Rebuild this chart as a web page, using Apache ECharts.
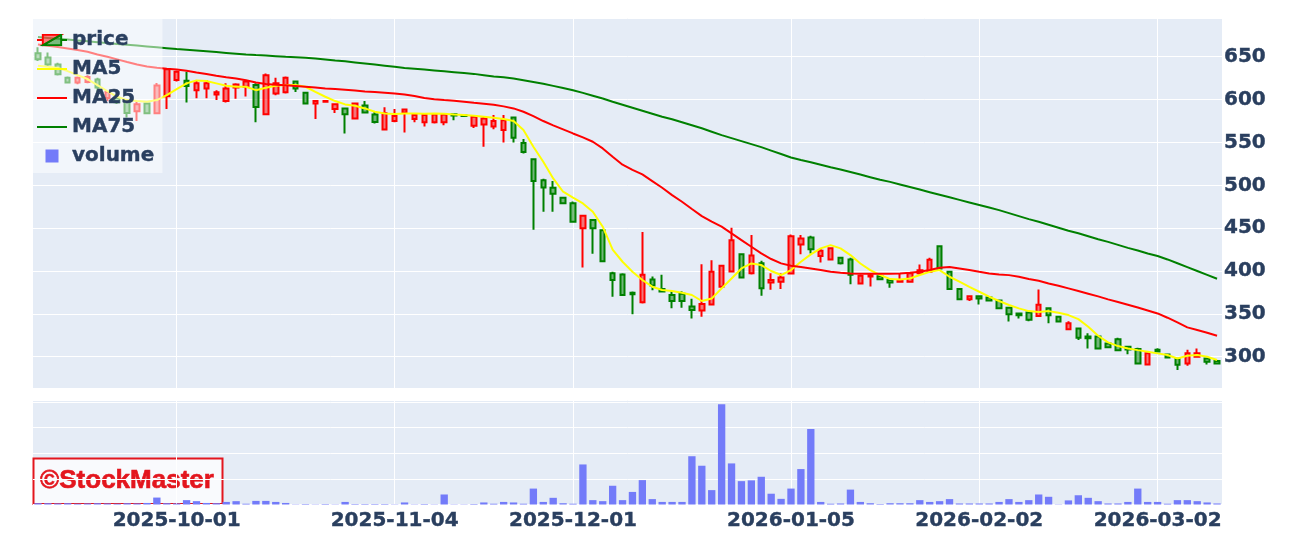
<!DOCTYPE html>
<html>
<head>
<meta charset="utf-8">
<title>price</title>
<script src="https://cdn.jsdelivr.net/npm/echarts@6/dist/echarts.min.js"></script>
<style>
  html, body { margin: 0; padding: 0; background: #fff; }
  #chart { width: 1291px; height: 543px; }
</style>
</head>
<body>
<div id="chart"></div>
<script>
// trading days shown on the chart
const dates = [
  '2025-09-09', '2025-09-10', '2025-09-11', '2025-09-12', '2025-09-16', '2025-09-17', '2025-09-18',
  '2025-09-19', '2025-09-22', '2025-09-24', '2025-09-25', '2025-09-26', '2025-09-29', '2025-09-30',
  '2025-10-01', '2025-10-02', '2025-10-03', '2025-10-06', '2025-10-07', '2025-10-08', '2025-10-09',
  '2025-10-10', '2025-10-14', '2025-10-15', '2025-10-16', '2025-10-17', '2025-10-20', '2025-10-21',
  '2025-10-22', '2025-10-23', '2025-10-24', '2025-10-27', '2025-10-28', '2025-10-29', '2025-10-30',
  '2025-10-31', '2025-11-04', '2025-11-05', '2025-11-06', '2025-11-07', '2025-11-10', '2025-11-11',
  '2025-11-12', '2025-11-13', '2025-11-14', '2025-11-17', '2025-11-18', '2025-11-19', '2025-11-20',
  '2025-11-21', '2025-11-25', '2025-11-26', '2025-11-27', '2025-11-28', '2025-12-01', '2025-12-02',
  '2025-12-03', '2025-12-04', '2025-12-05', '2025-12-08', '2025-12-09', '2025-12-10', '2025-12-11',
  '2025-12-12', '2025-12-15', '2025-12-16', '2025-12-17', '2025-12-18', '2025-12-19', '2025-12-22',
  '2025-12-23', '2025-12-24', '2025-12-25', '2025-12-26', '2025-12-29', '2025-12-30', '2026-01-05',
  '2026-01-06', '2026-01-07', '2026-01-08', '2026-01-09', '2026-01-13', '2026-01-14', '2026-01-15',
  '2026-01-16', '2026-01-19', '2026-01-20', '2026-01-21', '2026-01-22', '2026-01-23', '2026-01-26',
  '2026-01-27', '2026-01-28', '2026-01-29', '2026-01-30', '2026-02-02', '2026-02-03', '2026-02-04',
  '2026-02-05', '2026-02-06', '2026-02-09', '2026-02-10', '2026-02-12', '2026-02-13', '2026-02-16',
  '2026-02-17', '2026-02-18', '2026-02-19', '2026-02-20', '2026-02-24', '2026-02-25', '2026-02-26',
  '2026-02-27', '2026-03-02', '2026-03-03', '2026-03-04', '2026-03-05', '2026-03-06', '2026-03-09',
  '2026-03-10'
];

const tickDates = ['2025-10-01', '2025-11-04', '2025-12-01', '2026-01-05', '2026-02-02', '2026-03-02'];

const opens = [
  654, 649, 641, 625.5, 620, 620.5, 623.5, 602, 602, 598.5, 586.5, 595.5, 584, 604,
  623, 622, 611, 613, 606, 598.5, 614, 615, 617, 583,
  607, 608.5, 621, 608, 595.5, 597.5, 589, 589.5, 578, 593,
  582.5, 565, 575, 585, 577.5, 573.5, 573.5, 573.5, 583, 581.5,
  569.5, 571, 568.5, 564.5, 579, 549.5, 530.5, 506, 497, 485.5,
  479, 450, 459.5, 447.5, 397.5, 396, 374.5, 363.5, 390, 379,
  372, 373.5, 358.5, 354, 361, 381.5, 399.5, 419.5, 397.5, 409,
  386.5, 387.5, 397, 431, 439, 417.5, 413.5, 415.5, 413.5, 385.5,
  393.5, 394, 389.5, 387.5, 387.5, 397.5, 399, 429, 399, 379,
  367, 370.5, 369, 365.5, 357, 350.5, 351.5, 347.5, 356.5, 346.5,
  332, 333, 323.5, 323.5, 315.5, 320.5, 311.5, 309, 291, 308,
  302.5, 297.5, 292, 300, 298, 295
];
const closes = [
  647, 641, 629.5, 620, 625.5, 626.5, 614, 609, 597, 584.5, 594.5, 584, 616.5, 635.5,
  632.5, 616, 619, 619, 608.5, 613, 617.5, 621, 591.5, 628.5,
  619, 625.5, 613, 595.5, 598.5, 598.3, 594.5, 583, 595.5, 585,
  574, 584, 581, 588.5, 582, 582, 582.5, 582.5, 581.5, 581,
  580, 578, 575, 576, 555.5, 539, 505, 497.5, 490, 479,
  457.5, 464.5, 450, 411.5, 389.5, 372, 373, 395.5, 383, 376,
  365, 365, 354.5, 361.5, 399, 406, 436, 392.5, 418, 380,
  389.5, 392.5, 440.5, 438, 425.5, 423.5, 426.5, 409, 395.5, 394.5,
  395, 390.5, 386.5, 389.5, 397.5, 401, 413, 403, 379, 367,
  370.5, 368, 365.5, 356.5, 349.5, 348.5, 343, 360.5, 348.5, 341,
  339, 322, 321.5, 309.5, 311, 307.5, 308.5, 292, 304, 306,
  299, 290.5, 304, 304, 294, 292
];
const lows = [
  645, 639, 628, 619, 618, 619, 604, 598, 595, 579, 575, 583, 583, 589,
  621, 596.5, 601.5, 601.5, 599.5, 596.5, 601, 603.5, 573.5, 582,
  605, 607, 609, 595, 577.5, 597, 584.5, 560.5, 577.5, 584,
  572, 564.5, 573.5, 561.5, 573.5, 568.5, 572, 570, 576, 580.5,
  567, 545, 565.5, 550, 550, 537, 448, 469, 469, 478,
  456.5, 404, 420, 411, 370, 371, 349.5, 362, 377.5, 375,
  356.5, 357, 344.5, 346.5, 360.5, 381, 398.5, 391.5, 396, 371,
  378, 379, 396.5, 419.5, 420.5, 410, 412.5, 407.5, 384.5, 384.5,
  382, 389.5, 380.5, 387.5, 386.5, 395.5, 398.5, 402.5, 378, 366.5,
  365, 361, 365, 355.5, 341, 344.5, 341.5, 346.5, 339, 340,
  331, 319.5, 309.5, 309, 310, 307, 303, 291, 290, 305,
  298, 284.5, 289.5, 300, 291, 291.5
];
const highs = [
  661, 655, 643, 627, 627, 628.5, 625.5, 609.5, 604, 600.5, 598.5, 597, 619.5, 637,
  634, 632.5, 623, 623, 611, 619, 619, 622, 619, 630.5,
  625.5, 627, 621.5, 609, 598.5, 598.5, 594.5, 590, 596.5, 598.5,
  586, 591, 589, 589, 582.5, 583, 584, 583.5, 583.5, 581.5,
  582, 580, 582, 582, 580, 554, 531.5, 507.5, 505, 486.5,
  481, 465.5, 460.5, 448.5, 399, 397.5, 376, 445.5, 393.5, 395.5,
  376.5, 376.5, 367.5, 408, 412.5, 406.5, 450.5, 420.5, 442, 412,
  397.5, 397.5, 442.5, 442, 441, 426.5, 427, 416, 415.5, 396,
  397.5, 395, 389.5, 397.5, 398.5, 407.5, 415.5, 429, 400, 379,
  371, 371, 369, 366, 358, 351.5, 352, 378.5, 357, 347,
  341.5, 334, 327.5, 324, 316.5, 322, 312, 310.5, 304.5, 310,
  303, 298, 308, 309.5, 298.5, 296
];

const ma5 = [
  639.5, 638.3, 637, 633.3, 628.6, 624, 617, 610, 603.3, 599.4, 598.3, 597.5, 599.4, 605.3,
  612.3, 618.9, 622.4, 621.6, 618.9, 616.2, 615, 615, 611, 613.8,
  616.2, 617, 617, 615, 609, 603.3, 598.3, 594.4, 592.8, 589.7,
  585.8, 583.9, 583.1, 583.9, 583.9, 583.5, 583.9, 583.5, 582.7, 582,
  581.2, 580, 578.8, 577.3, 575, 564.4, 545, 527.5, 508, 492.5,
  485.5, 478.8, 469.2, 451.7, 425, 410.8, 399.2, 389.5, 381.7, 377.8,
  376.7, 374.7, 372, 365, 368, 379.7, 391.3, 403, 408.8, 406.9,
  400, 395.3, 401.1, 410.8, 419.4, 426.4, 430.2, 426.4, 418.6, 408.8,
  401.1, 395.3, 390.6, 390.2, 391.3, 395.3, 399.2, 401.1, 393.3, 387.5,
  381.6, 375.8, 370, 365, 360.3, 356.4, 353.2, 352.3, 353.2, 351.3,
  348.6, 343.9, 335, 324.5, 316.7, 312.4, 309.7, 307.7, 305.8, 303.9,
  302, 298, 301.1, 302, 300, 296.1
];
const ma25 = [
  664.4, 662.8, 661.3, 659.7, 657.8, 655.8, 652.7, 650, 646.9, 643.8, 641, 638.7, 637.2, 636,
  635.2, 633.7, 631.7, 629.8, 627.8, 626, 624.5, 622.5, 620, 618.3,
  617.3, 616.6, 615.8, 615, 614.2, 613, 612.3, 611.5, 610.7, 609.5,
  608.8, 608, 607.2, 606, 604.1, 601.8, 600.5, 599.5, 598.7, 597.5,
  596.3, 595.2, 594, 592.1, 589.7, 585.8, 580.8, 575, 569.9, 565.2,
  560.5, 555.9, 550.8, 543, 533.3, 524, 518, 512.7, 504.9, 497.1,
  488.6, 480.8, 472.3, 464.1, 457.5, 451.7, 443.9, 436.1, 428.3, 420.5,
  414, 408.9, 406.1, 404.6, 403, 401.1, 399.1, 398, 397.2, 396.9,
  396.9, 396.9, 396.9, 397.2, 398, 399.1, 401.1, 403.8, 404.6, 403,
  401.1, 399.1, 397.2, 396, 395.2, 393.3, 390.6, 388.6, 385.5, 382.8,
  379.7, 376.6, 373.5, 370.4, 366.9, 363.8, 360.7, 357.5, 354, 350.5,
  345.5, 340, 334.2, 331.1, 328, 324.5
];
const ma75 = [
  673, 672, 671, 670, 669, 668, 667, 666, 665, 664, 663, 662, 661, 660,
  659, 658.1, 657.2, 656.3, 655.4, 654.5, 653.6, 652.7, 652, 651.4,
  650.7, 650, 649.4, 648.7, 648, 646.9, 645.7, 644.6, 643.4, 642.2,
  640.9, 639.6, 638.3, 637, 636, 635, 634, 633, 632, 631,
  630, 628.5, 627, 626, 624.5, 622.5, 620.5, 618.5, 616, 613.5,
  611, 607.8, 604.5, 601.2, 597.5, 594, 590.5, 587, 583.5, 580,
  577, 573.5, 570, 566.5, 562.5, 558.5, 555, 551.5, 548, 544.5,
  540.5, 536.5, 532.5, 529.5, 527, 524, 521, 518.5, 515.5, 512.5,
  509.5, 506.5, 504, 501, 498, 495, 492, 489, 486, 483,
  480, 477, 474, 471, 467.5, 464, 460.5, 457.5, 454, 450.5,
  447, 444, 440.5, 437, 434, 430.5, 427, 424, 420.5, 417.5,
  413.5, 409, 404.5, 400, 395.5, 391
];

// volume, in units of 10,000 shares
const volumes = [
  0.5, 0.5, 0.4, 0.5, 0.3, 0.4, 0.5, 0.4, 0.3, 0.5, 0.4, 0.6, 2.7, 0.5,
  0.4, 1.7, 1.3, 0.6, 0.5, 1.0, 1.3, 0.3, 1.4, 1.4,
  1.0, 0.6, 0.1, 0.2, 0.1, 0.2, 0.1, 1.0, 0.2, 0.2,
  0.2, 0.2, 0.1, 0.8, 0.1, 0.2, 0.1, 3.9, 0.1, 0.1,
  0.2, 0.8, 0.3, 1.0, 0.8, 0.3, 6.2, 1.0, 2.6, 0.5,
  0.3, 15.6, 1.7, 1.3, 7.3, 1.7, 4.9, 9.5, 2.1, 1.0,
  1.0, 1.0, 18.8, 15.1, 5.6, 39.0, 16.0, 9.1, 9.4, 10.8,
  4.2, 2.2, 6.2, 13.8, 29.4, 1.0, 0.3, 0.4, 5.8, 1.0,
  0.5, 0.2, 0.5, 0.5, 0.5, 1.7, 1.0, 1.3, 2.1, 0.4,
  0.4, 0.4, 0.4, 1.0, 2.1, 1.0, 1.7, 3.9, 3.0, 0.1,
  1.6, 3.6, 2.6, 1.3, 0.4, 0.4, 1.0, 6.2, 1.0, 1.0,
  0.3, 1.7, 1.7, 1.3, 0.8, 0.4
];

const candles = dates.map((d, i) => [opens[i], closes[i], lows[i], highs[i]]);

const textColor = '#2a3f5f';
const fontFamily = '"DejaVu Sans", Verdana, sans-serif';
// the reference text is a touch heavier than plain DejaVu Sans Bold
const heavyText = { textBorderColor: textColor, textBorderWidth: 0.4 };

const priceIconSvg =
  "<svg xmlns='http://www.w3.org/2000/svg' width='31' height='13' viewBox='0 0 31 13'>" +
  "<line x1='0' y1='6.5' x2='6' y2='6.5' stroke='red' stroke-width='2'/>" +
  "<line x1='25' y1='6.5' x2='31' y2='6.5' stroke='green' stroke-width='2'/>" +
  "<path d='M6,1 H25 L6,12 Z' fill='rgba(255,0,0,0.5)' stroke='red' stroke-width='2'/>" +
  "<path d='M25,1 V12 H6 Z' fill='rgba(0,128,0,0.5)' stroke='green' stroke-width='2'/>" +
  "</svg>";
const priceIcon = 'image://data:image/svg+xml;charset=utf-8,' + encodeURIComponent(priceIconSvg);
// thin bar used as the legend mark of the moving averages
const lineIcon = 'path://M0,0L30,0L30,2L0,2Z';

const gridLines = {
  silent: true,
  symbol: ['none', 'none'],
  label: { show: false },
  lineStyle: { color: '#ffffff', width: 1, type: 'solid' },
  z: 1,
  data: tickDates.map(d => ({ xAxis: d }))
};

const chart = echarts.init(document.getElementById('chart'));

const option = {
  backgroundColor: '#ffffff',
  animation: false,
  grid: [
    { left: 33, right: 69, top: 18, height: 370, show: true, backgroundColor: '#e5ecf6', borderWidth: 0, outerBoundsMode: 'none' },
    { left: 33, right: 69, top: 400, height: 104.5, show: true, backgroundColor: '#e5ecf6', borderWidth: 0, outerBoundsMode: 'none' }
  ],
  legend: {
    orient: 'vertical',
    left: 33,
    top: 18,
    padding: [11, 8, 6, 4],
    itemWidth: 30,
    itemHeight: 13,
    itemGap: 7,
    backgroundColor: 'rgba(255,255,255,0.5)',
    selectedMode: false,
    textStyle: Object.assign({ fontSize: 20, fontWeight: 'bold', fontFamily: fontFamily, color: textColor, lineHeight: 22 }, heavyText),
    data: [
      { name: 'price', icon: priceIcon },
      { name: 'MA5', icon: lineIcon },
      { name: 'MA25', icon: lineIcon },
      { name: 'MA75', icon: lineIcon },
      { name: 'volume', icon: 'path://M0,0L10,0L10,10L0,10Z' }
    ]
  },
  xAxis: [
    {
      type: 'category', gridIndex: 0, data: dates, boundaryGap: true,
      axisLine: { show: false }, axisTick: { show: false }, axisLabel: { show: false },
      splitLine: { show: false }
    },
    {
      type: 'category', gridIndex: 1, data: dates, boundaryGap: true,
      axisLine: { show: false }, axisTick: { show: false },
      splitLine: { show: false },
      axisLabel: Object.assign({
        interval: (index, value) => tickDates.indexOf(value) >= 0,
        margin: 6,
        fontSize: 20, fontWeight: 'bold', fontFamily: fontFamily, color: textColor
      }, heavyText)
    }
  ],
  yAxis: [
    {
      type: 'value', gridIndex: 0, position: 'right',
      min: 263.5, max: 695.2, minInterval: 50, maxInterval: 50,
      axisLine: { show: false }, axisTick: { show: false },
      splitLine: { lineStyle: { color: '#ffffff', width: 1 } },
      axisLabel: Object.assign({
        margin: 2, showMinLabel: false, showMaxLabel: false,
        formatter: v => (v % 50 === 0 ? String(v) : ''),
        fontSize: 20, fontWeight: 'bold', fontFamily: fontFamily, color: textColor
      }, heavyText)
    },
    {
      type: 'value', gridIndex: 1, position: 'right',
      min: 0, max: 40.7, interval: 10,
      axisLine: { show: false }, axisTick: { show: false }, axisLabel: { show: false },
      splitLine: { lineStyle: { color: '#ffffff', width: 1 } }
    }
  ],
  series: [
    {
      name: 'price', type: 'candlestick', xAxisIndex: 0, yAxisIndex: 0,
      data: candles, barWidth: 5,
      itemStyle: {
        color: 'rgba(255,0,0,0.5)', color0: 'rgba(0,128,0,0.5)',
        borderColor: '#ff0000', borderColor0: '#008000', borderWidth: 2
      }
    },
    {
      name: 'MA5', type: 'line', xAxisIndex: 0, yAxisIndex: 0, data: ma5,
      symbol: 'none', color: '#ffff00', lineStyle: { color: '#ffff00', width: 2 }
    },
    {
      name: 'MA25', type: 'line', xAxisIndex: 0, yAxisIndex: 0, data: ma25,
      symbol: 'none', color: '#ff0000', lineStyle: { color: '#ff0000', width: 2 }
    },
    {
      name: 'MA75', type: 'line', xAxisIndex: 0, yAxisIndex: 0, data: ma75,
      symbol: 'none', color: '#008000', lineStyle: { color: '#008000', width: 2 },
      markLine: gridLines
    },
    {
      name: 'volume', type: 'bar', xAxisIndex: 1, yAxisIndex: 1, data: volumes,
      barWidth: '74%', color: '#737bf9', itemStyle: { color: '#737bf9' },
      markLine: gridLines
    }
  ],
  graphic: [
    {
      type: 'group', z: 100,
      children: [
        {
          type: 'rect',
          shape: { x: 33.5, y: 458.5, width: 189, height: 45.5 },
          style: { fill: 'rgba(255,255,255,0.75)', stroke: '#e3161e', lineWidth: 2 }
        },
        {
          type: 'text',
          style: {
            text: '©StockMaster', x: 127, y: 481,
            align: 'center', verticalAlign: 'middle',
            textAlign: 'center', textVerticalAlign: 'middle',
            fontSize: 26, fontWeight: 'bold',
            fontFamily: '"Liberation Sans", Arial, sans-serif',
            fill: '#e3161e', stroke: '#e3161e', lineWidth: 0.6
          }
        }
      ]
    }
  ]
};

chart.setOption(option);
</script>
</body>
</html>
